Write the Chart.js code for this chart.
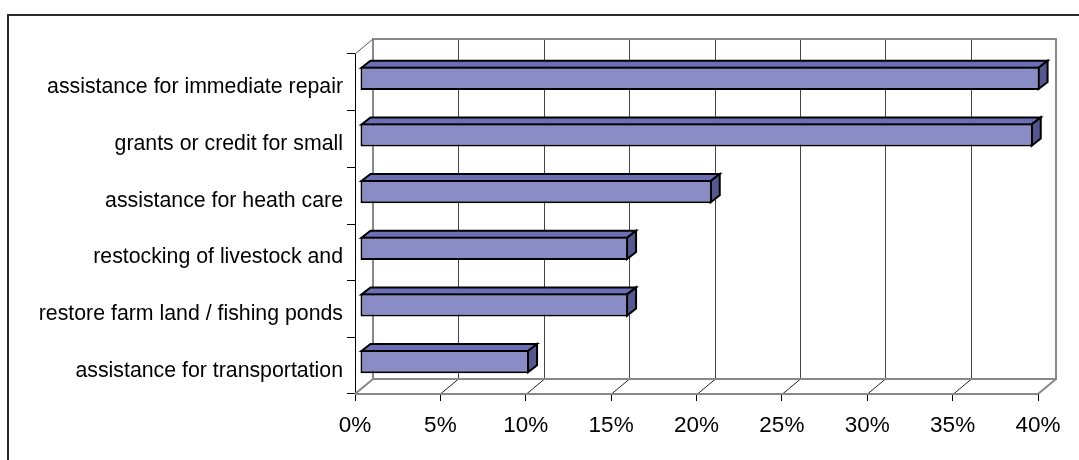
<!DOCTYPE html>
<html>
<head>
<meta charset="utf-8">
<script src="https://cdn.jsdelivr.net/npm/chart.js@4/dist/chart.umd.min.js"></script>
<style>
    html, body { margin: 0; padding: 0; background: #fff; }
    #wrap { position: relative; width: 1079px; height: 460px; }
    #frame { position: absolute; left: 7px; top: 14px; right: -4px; bottom: -4px; border-top: 2px solid #2b2b2b; border-left: 2px solid #2b2b2b; pointer-events: none; }
</style>
</head>
<body>
<div id="wrap">
    <canvas id="chart" width="1079" height="460"></canvas>
    <div id="frame"></div>
</div>
<script>
const categories = [
    "assistance for immediate repair",
    "grants or credit for small",
    "assistance for heath care",
    "restocking of livestock and",
    "restore farm land / fishing ponds",
    "assistance for transportation"
];
const values = [39.8, 39.4, 20.6, 15.7, 15.7, 9.9];
const tickValues = [0, 5, 10, 15, 20, 25, 30, 35, 40];

// depth of the 3d box and of the bars (pixels)
const WALL = { dx: 18, dy: -15 };
const BAR_SHIFT = { dx: 5, dy: -4 };
const BAR_DEPTH = { dx: 9, dy: -7 };

const FONT = "'Liberation Sans', Arial, sans-serif";

function line(ctx, x1, y1, x2, y2, color, width) {
    ctx.beginPath();
    ctx.moveTo(x1, y1);
    ctx.lineTo(x2, y2);
    ctx.strokeStyle = color;
    ctx.lineWidth = width;
    ctx.stroke();
}

function poly(ctx, pts, fill) {
    ctx.beginPath();
    ctx.moveTo(pts[0][0], pts[0][1]);
    pts.slice(1).forEach(p => ctx.lineTo(p[0], p[1]));
    ctx.closePath();
    ctx.fillStyle = fill;
    ctx.fill();
    ctx.strokeStyle = "#000";
    ctx.lineWidth = 2;
    ctx.lineJoin = "miter";
    ctx.stroke();
}

const box3d = {
    id: "box3d",
    beforeDatasetsDraw(chart) {
        const ctx = chart.ctx;
        const a = chart.chartArea;
        const xs = chart.scales.x;
        const { dx, dy } = WALL;
        ctx.save();

        // grid on the back wall and on the floor
        tickValues.forEach((v, i) => {
            const px = Math.round(xs.getPixelForValue(v)) + 0.5;
            if (i > 0 && i < tickValues.length - 1) {
                line(ctx, px + dx, a.top + dy, px + dx, a.bottom + dy, "#444", 1);
                line(ctx, px, a.bottom, px + dx, a.bottom + dy, "#222", 1);
            }
        });

        // back wall
        ctx.strokeStyle = "#888";
        ctx.lineWidth = 2;
        ctx.strokeRect(a.left + dx, a.top + dy, a.right - a.left, a.bottom - a.top);

        // side wall top edge and floor edges
        line(ctx, a.left, a.top, a.left + dx, a.top + dy, "#555", 1);
        line(ctx, a.left, a.bottom, a.left + dx, a.bottom + dy, "#888", 2);
        line(ctx, a.right, a.bottom, a.right + dx, a.bottom + dy, "#888", 2);
        line(ctx, a.left, a.bottom, a.right, a.bottom, "#888", 2);

        // top and end faces of the bars
        const meta = chart.getDatasetMeta(0);
        meta.data.forEach(bar => {
            const p = bar.getProps(["x", "y", "base", "height"], true);
            const L = Math.min(p.base, p.x) + BAR_SHIFT.dx + 1;
            const R = Math.max(p.base, p.x) + BAR_SHIFT.dx - 1;
            const T = p.y - p.height / 2 + BAR_SHIFT.dy + 1;
            const B = p.y + p.height / 2 + BAR_SHIFT.dy - 1;
            const bx = BAR_DEPTH.dx, by = BAR_DEPTH.dy;
            poly(ctx, [[L, T], [R, T], [R + bx, T + by], [L + bx, T + by]], "#6d6fb5");
            poly(ctx, [[R, T], [R + bx, T + by], [R + bx, B + by], [R, B]], "#55578f");
        });

        ctx.restore();
        // front faces get drawn by chart.js, shifted into the box
        ctx.save();
        ctx.translate(BAR_SHIFT.dx, BAR_SHIFT.dy);
    },
    afterDatasetsDraw(chart) {
        chart.ctx.restore();
    }
};

new Chart(document.getElementById("chart"), {
    type: "bar",
    data: {
        labels: categories,
        datasets: [{
            data: values,
            backgroundColor: "#8a8cc6",
            borderColor: "#000",
            borderWidth: 2,
            borderSkipped: false,
            barPercentage: 0.41,
            categoryPercentage: 1,
            clip: false
        }]
    },
    options: {
        indexAxis: "y",
        responsive: false,
        animation: false,
        events: [],
        layout: { padding: { top: 54, right: 41, bottom: 0, left: 0 } },
        plugins: {
            legend: { display: false },
            tooltip: { enabled: false }
        },
        scales: {
            x: {
                type: "linear",
                min: 0,
                max: 40,
                afterBuildTicks: s => { s.ticks = tickValues.map(v => ({ value: v })); },
                afterFit: s => { s.height = 66; },
                grid: { drawOnChartArea: false, tickLength: 7, color: "#000", lineWidth: 1 },
                border: { display: false },
                ticks: {
                    callback: v => v + "%",
                    font: { family: FONT, size: 22.5 },
                    color: "#000",
                    padding: 11,
                    maxRotation: 0,
                    autoSkip: false
                }
            },
            y: {
                afterFit: s => { s.width = 355; },
                grid: { drawOnChartArea: false, tickLength: 8, color: "#000", lineWidth: 1, offset: true },
                border: { display: true, color: "#000", width: 1 },
                ticks: {
                    font: { family: FONT, size: 21.3 },
                    color: "#000",
                    padding: 4,
                    labelOffset: 5,
                    autoSkip: false
                }
            }
        }
    },
    plugins: [box3d]
});
</script>
</body>
</html>
